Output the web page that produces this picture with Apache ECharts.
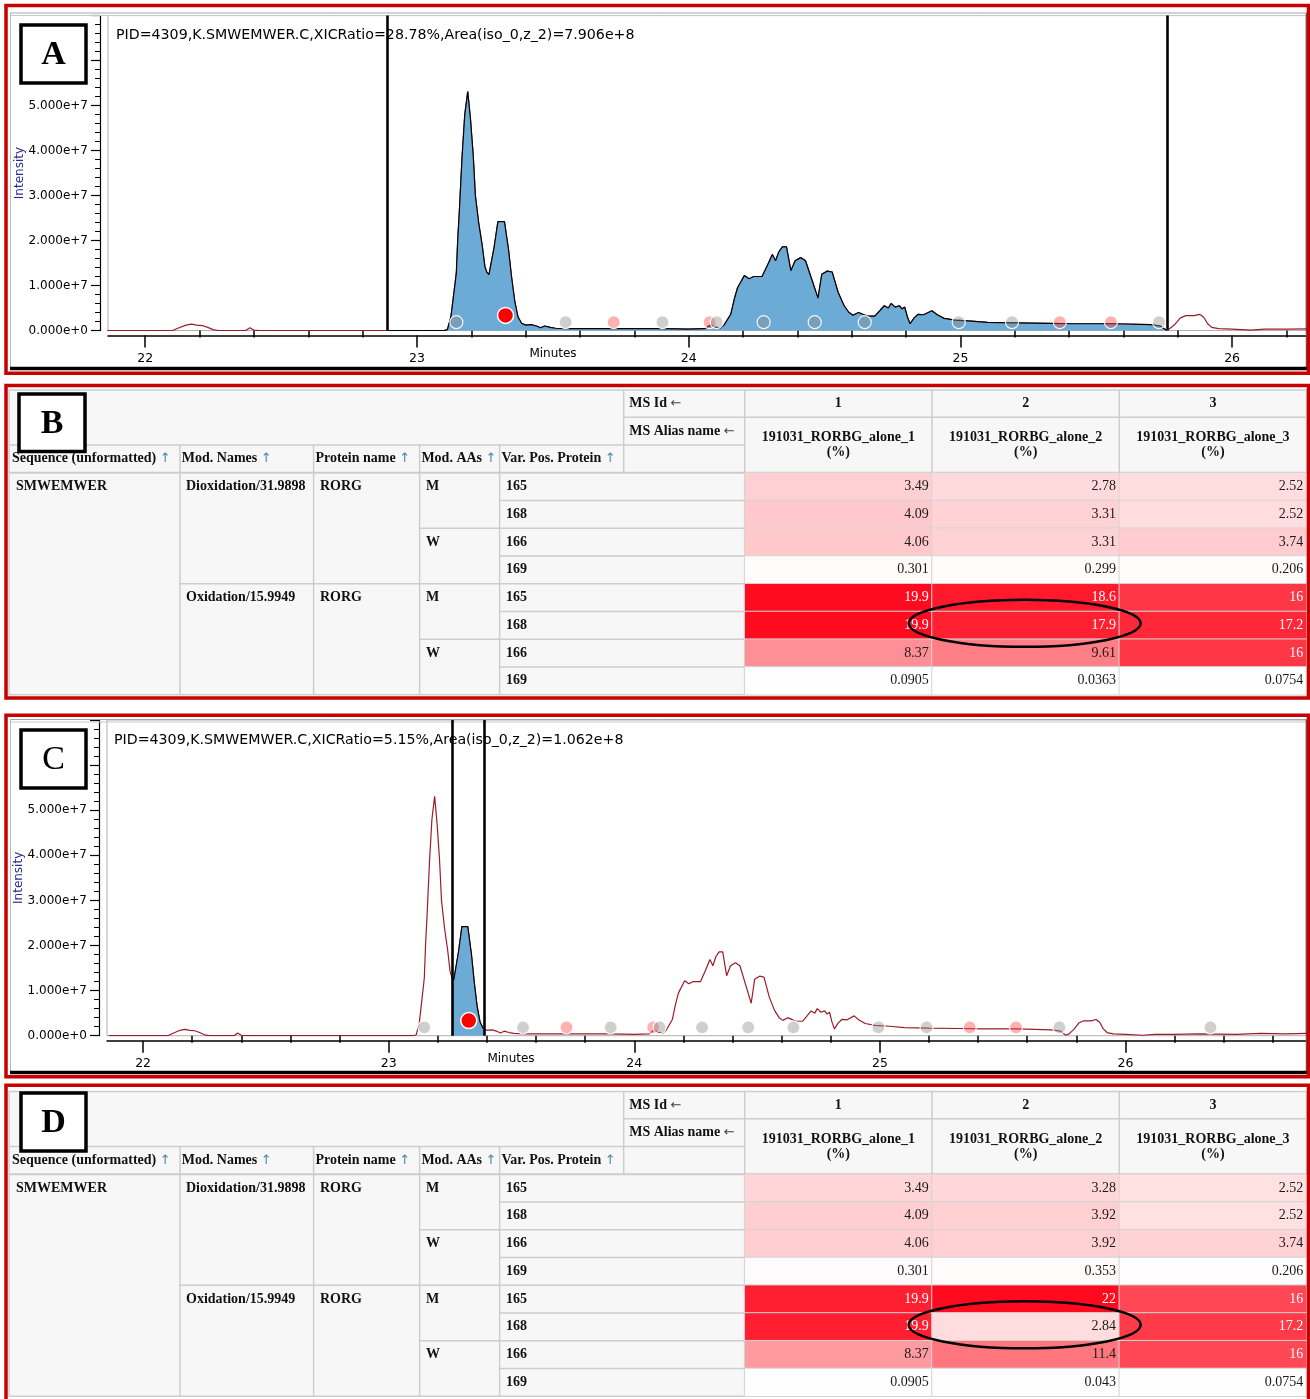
<!DOCTYPE html>
<html><head><meta charset="utf-8">
<script src="https://cdn.jsdelivr.net/npm/echarts@6/dist/echarts.min.js"></script>
<style>html,body{margin:0;padding:0;background:#fff}#c{width:1310px;height:1399px}</style>
</head><body><div id="c"></div><script>
// ---------------- DATA ----------------
const traceTime = [21.86,22.10,22.12,22.15,22.17,22.19,22.21,22.23,22.25,22.27,22.37,22.385,22.40,22.42,22.895,23.10,23.112,23.125,23.135,23.145,23.15,23.156,23.166,23.176,23.187,23.197,23.207,23.215,23.227,23.24,23.25,23.257,23.265,23.272,23.284,23.298,23.322,23.337,23.348,23.36,23.372,23.385,23.392,23.40,23.42,23.44,23.455,23.47,23.49,23.51,23.55,23.7,23.9,24.0,24.06,24.08,24.095,24.115,24.13,24.155,24.168,24.18,24.205,24.222,24.24,24.27,24.29,24.308,24.32,24.332,24.345,24.36,24.376,24.392,24.412,24.43,24.455,24.476,24.49,24.51,24.528,24.55,24.572,24.59,24.605,24.625,24.645,24.66,24.685,24.705,24.72,24.735,24.745,24.76,24.775,24.785,24.795,24.805,24.815,24.83,24.845,24.865,24.895,24.915,24.94,24.98,25.04,25.10,25.2,25.32,25.42,25.56,25.70,25.735,25.757,25.77,25.79,25.81,25.83,25.86,25.88,25.895,25.91,25.925,25.95,26.0,26.07,26.12,26.2,26.3,26.45,26.55,26.65,26.74];
const traceIntensity = [0,0,0.05e7,0.12e7,0.14e7,0.12e7,0.11e7,0.07e7,0.02e7,0,0,0.06e7,0.01e7,0,0,0,0.02e7,0.3e7,0.79e7,1.28e7,2.0e7,2.64e7,3.85e7,4.8e7,5.31e7,4.7e7,3.9e7,3.0e7,2.4e7,1.9e7,1.42e7,1.3e7,1.24e7,1.27e7,1.85e7,2.42e7,2.42e7,1.8e7,1.2e7,0.65e7,0.3e7,0.16e7,0.14e7,0.12e7,0.13e7,0.1e7,0.06e7,0.1e7,0.07e7,0.05e7,0.04e7,0.04e7,0.04e7,0.03e7,0.04e7,0.12e7,0.08e7,0.05e7,0.12e7,0.36e7,0.7e7,0.95e7,1.22e7,1.15e7,1.2e7,1.2e7,1.45e7,1.69e7,1.55e7,1.75e7,1.86e7,1.86e7,1.33e7,1.55e7,1.62e7,1.55e7,1.1e7,0.72e7,1.25e7,1.32e7,1.3e7,0.85e7,0.55e7,0.4e7,0.34e7,0.4e7,0.35e7,0.32e7,0.32e7,0.45e7,0.55e7,0.5e7,0.6e7,0.52e7,0.55e7,0.48e7,0.52e7,0.3e7,0.15e7,0.28e7,0.36e7,0.35e7,0.44e7,0.35e7,0.27e7,0.23e7,0.21e7,0.18e7,0.17e7,0.16e7,0.15e7,0.15e7,0.13e7,0.1e7,0.01e7,0.04e7,0.14e7,0.28e7,0.33e7,0.33e7,0.36e7,0.3e7,0.15e7,0.07e7,0.04e7,0.03e7,0.01e7,0.03e7,0.03e7,0.04e7,0.03e7,0.05e7,0.04e7,0.05e7];

const markerTime = [23.145,23.326,23.547,23.724,23.904,24.077,24.103,24.276,24.464,24.648,24.994,25.190,25.366,25.554,25.731,26.346];
const markerKind = ['ms2','hit','ms2','other','ms2','other','ms2','ms2','ms2','ms2','ms2','ms2','other','other','ms2','ms2'];
const markerIntensity = [0.185e7,0.335e7,0.185e7,0.185e7,0.185e7,0.185e7,0.185e7,0.185e7,0.185e7,0.185e7,0.185e7,0.185e7,0.185e7,0.185e7,0.185e7,0.185e7];

const windowA = [22.895, 25.757];
const windowC = [23.257, 23.392];
const titleA = 'PID=4309,K.SMWEMWER.C,XICRatio=28.78%,Area(iso_0,z_2)=7.906e+8';
const titleC = 'PID=4309,K.SMWEMWER.C,XICRatio=5.15%,Area(iso_0,z_2)=1.062e+8';
const xMajorTicks = [22,23,24,25,26];
const xMinorTicksA = [22.2,22.4,22.6,22.8,23.2,23.4,23.6,23.8,24.2,24.4,24.6,24.8,25.2,25.4,25.6,25.8,26.2];
const xMinorTicksC = [22.2,22.4,22.6,22.8,23.2,23.4,23.6,23.8,24.2,24.4,24.6,24.8,25.2,25.4,25.6,25.8,26.2,26.4,26.6];
const yAxisName = 'Intensity';
const xAxisName = 'Minutes';

const seqName = 'SMWEMWER';
const modNames = ['Dioxidation/31.9898', 'Oxidation/15.9949'];
const proteinNames = ['RORG', 'RORG'];
const modAAs = ['M', 'W'];
const positionsM = ['165', '168'];
const positionsW = ['166', '169'];
const colHeaders = ['Sequence (unformatted)', 'Mod. Names', 'Protein name', 'Mod. AAs', 'Var. Pos. Protein'];
const runIds = ['1', '2', '3'];
const runAliases = ['191031_RORBG_alone_1', '191031_RORBG_alone_2', '191031_RORBG_alone_3'];
const valuesB = [[3.49,2.78,2.52],[4.09,3.31,2.52],[4.06,3.31,3.74],[0.301,0.299,0.206],[19.9,18.6,16],[19.9,17.9,17.2],[8.37,9.61,16],[0.0905,0.0363,0.0754]];
const valuesD = [[3.49,3.28,2.52],[4.09,3.92,2.52],[4.06,3.92,3.74],[0.301,0.353,0.206],[19.9,22,16],[19.9,2.84,17.2],[8.37,11.4,16],[0.0905,0.043,0.0754]];
const circledCell = [1, 5]; // [column, row]

// ---------------- LAYOUT / STYLE ----------------
const RED = '#c80000';
const TRACE = '#9a1c28';
const FILL = '#6cabd6';
const SANS = '"DejaVu Sans"';
const SERIF = '"Liberation Serif"';
const T = {cols:[9,180,313.6,419.6,499.6,623.7,744.7], valEdge:[744.7,932,1119.3,1306.6], h1:27.3, h2:55, h3:82.7, rowH:27.75};
const topB = 390, topD = 1091.5;
const gridA = {left:108, top:15.6, width:1198, height:314.9};
const gridC = {left:107, top:720, width:1199, height:315.7};

const cv = document.createElement('canvas').getContext('2d');
function tw(s, f){ cv.font = f; return cv.measureText(s).width; }

function sci(v){
  if (v === 0) return '0.000e+0';
  const e = Math.floor(Math.log10(v));
  return (v/Math.pow(10,e)).toFixed(3) + 'e+' + e;
}

function traceData(){ return traceTime.map((t,i)=>[t, traceIntensity[i]]); }
function windowData(w){ return traceTime.map((t,i)=>[t, traceIntensity[i]]).filter(p=>p[0]>=w[0]-1e-9 && p[0]<=w[1]+1e-9); }
function markerData(){
  return markerTime.map((t,i)=>{
    const k = markerKind[i];
    let st;
    if (k==='hit') st = {size:16, itemStyle:{color:'#ff0000', borderColor:'#ffffff', borderWidth:1.5, opacity:1}};
    else if (k==='other') st = {size:13, itemStyle:{color:'rgba(255,70,70,0.42)', borderColor:'rgba(255,255,255,0.9)', borderWidth:1.2, opacity:1}};
    else st = {size:13, itemStyle:{color:'rgba(140,140,140,0.42)', borderColor:'rgba(255,255,255,0.9)', borderWidth:1.2, opacity:1}};
    return {value:[t, markerIntensity[i]], symbolSize:st.size, itemStyle:st.itemStyle};
  });
}

function xAxes(grid, min, max, minor){
  return [
    {gridIndex:grid, type:'value', position:'bottom', min:min, max:max, offset:5,
     axisLine:{show:true, onZero:false, lineStyle:{color:'#000', width:1.5}},
     axisTick:{show:true, customValues:xMajorTicks, length:12, lineStyle:{color:'#000', width:1.5}},
     axisLabel:{show:true, customValues:xMajorTicks, margin:17, fontFamily:'DejaVu Sans', fontSize:12.5, color:'#000'},
     splitLine:{show:false}},
    {gridIndex:grid, type:'value', position:'bottom', min:min, max:max, offset:5,
     axisLine:{show:false},
     axisTick:{show:true, customValues:minor, length:7, lineStyle:{color:'#000', width:1.5}},
     axisLabel:{show:false}, splitLine:{show:false}}
  ];
}
function yAxis(grid){
  return {gridIndex:grid, type:'value', min:0, max:7e7, interval:1e7, offset:8,
    axisLine:{show:true, lineStyle:{color:'#000', width:1.2}},
    axisTick:{show:true, length:9, lineStyle:{color:'#000', width:1.2}},
    minorTick:{show:true, splitNumber:5, length:5, lineStyle:{color:'#000', width:1}},
    axisLabel:{margin:12, fontFamily:'DejaVu Sans', fontSize:12, color:'#000', formatter:v=> v>=6e7 ? '' : sci(v)},
    splitLine:{show:false}};
}

function chromSeries(xi, yi, win){
  return [
    {type:'line', xAxisIndex:xi, yAxisIndex:yi, data:traceData(), showSymbol:false, symbol:'none',
     lineStyle:{color:TRACE, width:1.2}, z:2, animation:false, silent:true},
    {type:'line', xAxisIndex:xi, yAxisIndex:yi, data:windowData(win), showSymbol:false, symbol:'none',
     lineStyle:{color:'#000', width:1.2}, areaStyle:{color:FILL, opacity:1}, z:3, animation:false, silent:true,
     markLine:{symbol:'none', silent:true, label:{show:false}, lineStyle:{color:'#000', width:2.6, type:'solid'},
       data:[{xAxis:win[0]},{xAxis:win[1]}]}},
    {type:'scatter', xAxisIndex:xi, yAxisIndex:yi, data:markerData(), z:5, animation:false, silent:true}
  ];
}

function heatData(vals, max){
  const d = [];
  vals.forEach((row, r)=> row.forEach((v, c)=>{
    d.push({value:[c, r, v], label:{color: v/max > 0.6 ? '#ffffff' : '#1a1a1a'}});
  }));
  return d;
}

// ---------------- GRAPHICS ----------------
const g = [];
function rect(x,y,w,h,style,z){ g.push({type:'rect', shape:{x:x,y:y,width:w,height:h}, style:style, z:z||10, silent:true}); }
function line(x1,y1,x2,y2,stroke,lw,z){ g.push({type:'line', shape:{x1:x1,y1:y1,x2:x2,y2:y2}, style:{stroke:stroke, lineWidth:lw}, z:z||10, silent:true}); }
function text(x,y,s,font,fill,align,z,rot){ g.push({type:'text', x:x, y:y, rotation:rot||0, style:{text:s, font:font, fill:fill, align:align||'left', textAlign:align||'left', verticalAlign:'middle', textVerticalAlign:'middle'}, z:z||12, silent:true}); }

// panel frames
rect(6, 5.5, 1302.5, 367.8, {fill:'none', stroke:RED, lineWidth:3.5}, 20);
rect(6, 385.5, 1302.5, 312.5, {fill:'none', stroke:RED, lineWidth:3.5}, 20);
rect(6, 715.3, 1302.5, 361.5, {fill:'none', stroke:RED, lineWidth:3.5}, 20);
rect(6, 1085.3, 1302.5, 330, {fill:'none', stroke:RED, lineWidth:3.5}, 20);

// chromatogram control frames
function chromFrame(top, bottom){
  line(10, top, 1307, top, '#a8a8a8', 1, 1);
  line(10, top+2.5, 1307, top+2.5, '#c8c8c8', 1, 1);
  line(10.5, top, 10.5, bottom, '#b8b8b8', 1, 1);
  line(1306.5, top, 1306.5, bottom, '#606060', 1.5, 1);
  line(10, bottom, 1308, bottom, '#000', 3.5, 15);
}
chromFrame(13, 368.5);
chromFrame(719.5, 1072.5);

// titles & axis names
text(116, 35, titleA, '14.2px '+SANS, '#000');
text(114, 740, titleC, '14.2px '+SANS, '#000');
text(553, 354, xAxisName, '12px '+SANS, '#000', 'center');
text(511, 1059, xAxisName, '12px '+SANS, '#000', 'center');
text(20, gridA.top + gridA.height/2, yAxisName, '12px '+SANS, '#2a2a96', 'center', 12, Math.PI/2);
text(19, gridC.top + gridC.height/2, yAxisName, '12px '+SANS, '#2a2a96', 'center', 12, Math.PI/2);

// tables
const HF = 'bold 14px '+SERIF;
function buildTable(top){
  const L = T.cols, V = T.valEdge, rh = T.rowH;
  const dataTop = top + T.h3, bottom = dataTop + 8*rh;
  const lc = '#cdcdcd';
  rect(L[0], top, V[3]-L[0], bottom-top, {fill:'#f7f7f7', stroke:lc, lineWidth:1.5}, 2);
  line(L[5], top+T.h1, V[3], top+T.h1, lc, 1.5, 3);
  line(L[0], top+T.h2, L[6], top+T.h2, lc, 1.5, 3);
  line(L[0], dataTop, V[3], dataTop, lc, 2, 3);
  line(L[5], top, L[5], dataTop, lc, 1.5, 3);
  line(L[6], top, L[6], bottom, lc, 1.5, 3);
  line(V[1], top, V[1], dataTop, lc, 1.5, 3);
  line(V[2], top, V[2], dataTop, lc, 1.5, 3);
  for (let i=1;i<=4;i++) line(L[i], top+T.h2, L[i], bottom, lc, 1.5, 3);
  for (let r=1;r<8;r++){
    const y = dataTop + r*rh;
    const xs = (r%4===0) ? L[1] : (r%2===0 ? L[3] : L[4]);
    line(xs, y, L[6], y, lc, 1.5, 3);
  }
  // header texts
  const hy = top + (T.h2+T.h3)/2;
  colHeaders.forEach((h,i)=>{
    const x = L[i] + (i===0 ? 3 : 1.8);
    text(x, hy, h, HF, '#111');
    text(x + tw(h+' ', HF), hy, '\u2191', '13px '+SANS, '#4a86a8');
  });
  text(L[5]+5.5, top+T.h1/2, 'MS Id', HF, '#111');
  text(L[5]+5.5+tw('MS Id ', HF), top+T.h1/2, '\u2190', '13px '+SANS, '#444');
  text(L[5]+5.5, top+(T.h1+T.h2)/2, 'MS Alias name', HF, '#111');
  text(L[5]+5.5+tw('MS Alias name ', HF), top+(T.h1+T.h2)/2, '\u2190', '13px '+SANS, '#444');
  for (let c=0;c<3;c++){
    const cx = (V[c]+V[c+1])/2;
    text(cx, top+T.h1/2, runIds[c], HF, '#111', 'center');
    const my = top+(T.h1+T.h3)/2;
    text(cx, my-7.5, runAliases[c], HF, '#111', 'center');
    text(cx, my+7.5, '(%)', HF, '#111', 'center');
  }
  // data texts
  const rc = r => dataTop + (r+0.5)*rh;
  text(L[0]+7, rc(0), seqName, HF, '#111');
  for (let m=0;m<2;m++){
    text(L[1]+6, rc(4*m), modNames[m], HF, '#111');
    text(L[2]+6.4, rc(4*m), proteinNames[m], HF, '#111');
    for (let a=0;a<2;a++){
      const r0 = 4*m + 2*a;
      text(L[3]+6.4, rc(r0), modAAs[a], HF, '#111');
      const pos = modAAs[a]==='M' ? positionsM : positionsW;
      text(L[4]+6.4, rc(r0), pos[0], HF, '#111');
      text(L[4]+6.4, rc(r0+1), pos[1], HF, '#111');
    }
  }
  // circled cell
  const cw = (V[3]-V[0])/3;
  g.push({type:'ellipse', shape:{cx:V[0]+(circledCell[0]+0.5)*cw - 1, cy:dataTop+(circledCell[1]+0.5)*rh - 2, rx:116, ry:23.5},
    style:{fill:'none', stroke:'#000', lineWidth:2.5}, z:30, silent:true});
}
buildTable(topB);
buildTable(topD);

// letter boxes
function letterBox(x,y,w,h,letter,bold){
  rect(x, y, w, h, {fill:'#fff', stroke:'#000', lineWidth:3.5}, 40);
  text(x+w/2, y+h/2+1, letter, (bold?'bold ':'')+'34px '+SERIF, '#000', 'center', 41);
}
letterBox(21, 25, 65, 58, 'A', true);
letterBox(19, 394, 66, 57.5, 'B', true);
letterBox(21, 730, 65, 58, 'C', false);
letterBox(21, 1093, 65, 58, 'D', true);

// ---------------- CHART ----------------
const chart = echarts.init(document.getElementById('c'), null, {width:1310, height:1399});
const cellColors = ['#ffffff', '#ff7a82', '#ff0a1e'];
const heatLabel = {show:true, position:'insideRight', distance:4, fontFamily:'Liberation Serif', fontSize:14,
  formatter:p=>String(p.value[2])};
const gridStyle = {show:true, borderColor:'#b0b0b0', borderWidth:1, backgroundColor:'#fff', outerBoundsMode:'none', containLabel:false};
const option = {
  animation:false,
  backgroundColor:'#ffffff',
  grid:[
    Object.assign({}, gridA, gridStyle),
    Object.assign({}, gridC, gridStyle),
    {left:T.valEdge[0], top:topB+T.h3, width:T.valEdge[3]-T.valEdge[0], height:8*T.rowH, outerBoundsMode:'none'},
    {left:T.valEdge[0], top:topD+T.h3, width:T.valEdge[3]-T.valEdge[0], height:8*T.rowH, outerBoundsMode:'none'}
  ],
  xAxis:[].concat(
    xAxes(0, 21.863, 26.272, xMinorTicksA),
    xAxes(1, 21.853, 26.735, xMinorTicksC),
    [{gridIndex:2, type:'category', data:runIds, show:false},
     {gridIndex:3, type:'category', data:runIds, show:false}]
  ),
  yAxis:[yAxis(0), yAxis(1),
    {gridIndex:2, type:'category', data:valuesB.map((_, i)=>String(i)), inverse:true, show:false},
    {gridIndex:3, type:'category', data:valuesD.map((_, i)=>String(i)), inverse:true, show:false}],
  visualMap:[
    {type:'continuous', show:false, seriesIndex:6, dimension:2, min:0, max:19.9, inRange:{color:cellColors}},
    {type:'continuous', show:false, seriesIndex:7, dimension:2, min:0, max:22, inRange:{color:cellColors}}
  ],
  series:[].concat(
    chromSeries(0, 0, windowA),
    chromSeries(2, 1, windowC),
    [{type:'heatmap', xAxisIndex:4, yAxisIndex:2, data:heatData(valuesB, 19.9), label:heatLabel,
      itemStyle:{borderColor:'#d4d4d4', borderWidth:1}, emphasis:{disabled:true}, silent:true, z:4},
     {type:'heatmap', xAxisIndex:5, yAxisIndex:3, data:heatData(valuesD, 22), label:heatLabel,
      itemStyle:{borderColor:'#d4d4d4', borderWidth:1}, emphasis:{disabled:true}, silent:true, z:4}]
  ),
  graphic:{elements:g}
};
chart.setOption(option);
</script></body></html>
